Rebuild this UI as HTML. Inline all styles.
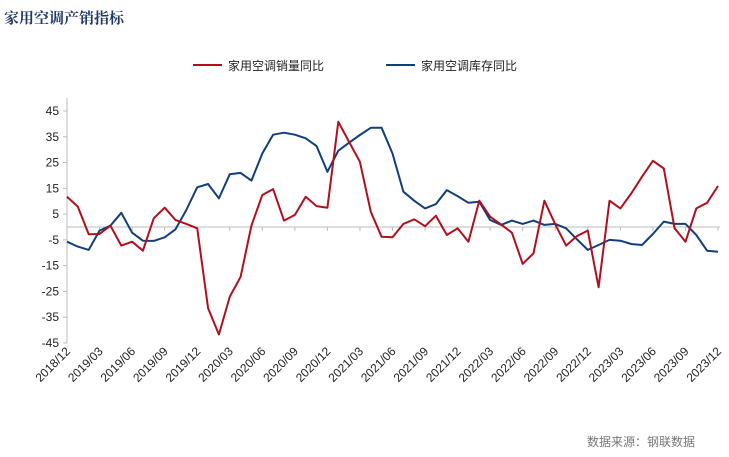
<!DOCTYPE html>
<html><head><meta charset="utf-8"><style>
body{margin:0;background:#fff;}
svg{display:block;font-family:"Liberation Sans","Noto Sans CJK SC",sans-serif;}
</style></head><body>
<svg width="729" height="457">
<text x="4" y="23" font-size="15" font-weight="bold" fill="#1f3864" font-family="'Noto Serif CJK SC','Noto Sans CJK SC',serif">家用空调产销指标</text>
<g>
<g><line x1="193" y1="65" x2="222" y2="65" stroke="#b0101e" stroke-width="2"/><text x="228" y="70" font-size="12" fill="#222">家用空调销量同比</text></g>
<g><line x1="386" y1="65" x2="415" y2="65" stroke="#123f7a" stroke-width="2"/><text x="421" y="70" font-size="12" fill="#222">家用空调库存同比</text></g>
</g>
<g id="axes"></g>
<g id="plot"></g>
<text x="695" y="446" font-size="12" fill="#777" text-anchor="end">数据来源：钢联数据</text>
</svg>
<script>
const yTicks=[45,35,25,15,5,-5,-15,-25,-35,-45];
const sales=[11.7,7.9,-2.8,-2.7,0.5,-7.2,-5.7,-9.2,3.4,7.5,2.7,1.2,-0.5,-31.5,-41.7,-27,-19.3,0.5,12.4,14.7,2.5,4.7,11.7,8.1,7.5,40.8,33,25.3,5.9,-3.8,-4,1.2,3,0.3,4.4,-3.1,-0.5,-5.7,10.2,4,1,-2.2,-14.3,-10.2,10.2,1,-7.2,-3.5,-1.4,-23.4,10.2,7.2,13,19.5,25.7,22.7,-0.5,-5.7,7.2,9.4,15.9];
const inventory=[-5.7,-7.6,-8.9,-1.4,0.5,5.5,-2.2,-5.3,-5.4,-4,-0.9,6.6,15.4,16.7,11.1,20.5,21,18,28.5,35.8,36.6,35.8,34.4,31.4,21.4,29.6,32.7,35.7,38.5,38.5,28.5,13.7,10.2,7.2,8.9,14.3,12,9.4,9.8,2.7,0.8,2.5,1.2,2.5,0.8,1.2,-0.5,-4.8,-8.9,-7,-5,-5.3,-6.6,-7,-2.7,2.1,1.2,1.2,-3.1,-9.2,-9.6];
const startYear=2018,startMonth=12;
const NS="http://www.w3.org/2000/svg";
const x0=67,x1=718,yTop=111,yBot=343;
const xs=i=>x0+(x1-x0)*i/(sales.length-1);
const ys=v=>yBot-(v+45)*(yBot-yTop)/90;
const axes=document.getElementById('axes'),plot=document.getElementById('plot');
function mk(t,a,p){const e=document.createElementNS(NS,t);for(const k in a)e.setAttribute(k,a[k]);p.appendChild(e);return e;}
const ya=mk('line',{x1:x0,y1:98,x2:x0,y2:yBot,stroke:'#bbb'},axes);


const zl=mk('line',{x1:x0,y1:ys(0),x2:x1+2,y2:ys(0),stroke:'#bbb'},axes);


yTicks.forEach(v=>{
 mk('line',{x1:x0-4,y1:ys(v),x2:x0,y2:ys(v),stroke:'#bbb'},axes);
 const t=mk('text',{x:x0-8,y:ys(v)+4,'font-size':12,'text-anchor':'end',fill:'#222'},axes);
 t.textContent=v;
 
 
});
for(let i=0;i<sales.length;i+=3){
 const m=(startMonth-1+i)%12+1,y=startYear+Math.floor((startMonth-1+i)/12);
 const lab=y+'/'+String(m).padStart(2,'0');
 mk('line',{x1:xs(i),y1:ys(0),x2:xs(i),y2:ys(0)+4,stroke:'#bbb'},axes);
 const tx=xs(i)+4,ty=352;
 const t=mk('text',{x:tx,y:ty,'font-size':12,'text-anchor':'end',fill:'#222',transform:`rotate(-45 ${tx} ${ty})`},axes);
 t.textContent=lab;
 
 
}
function line(arr,col,name){
 const p=mk('polyline',{points:arr.map((v,i)=>xs(i).toFixed(1)+','+ys(v).toFixed(1)).join(' '),fill:'none',stroke:col,'stroke-width':2,'stroke-linejoin':'round'},plot);
 
 
}
line(inventory,'#123f7a','inventory-yoy-line');
line(sales,'#b0101e','sales-yoy-line');
</script>
</body></html>
